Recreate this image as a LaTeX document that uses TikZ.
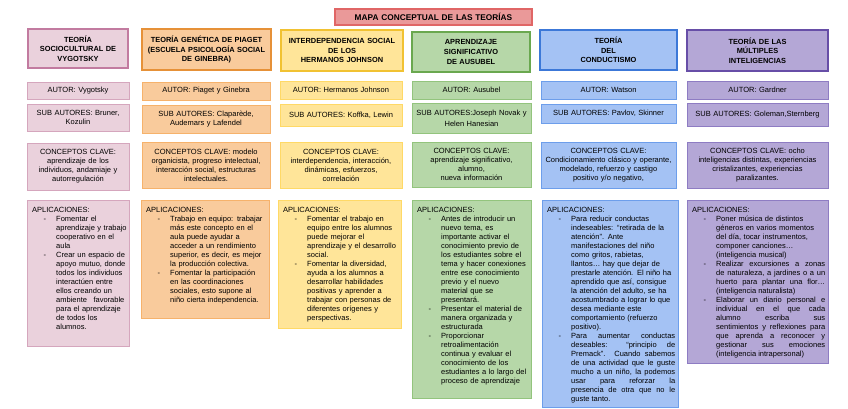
\documentclass[tikz,border=0pt]{standalone}
\usepackage{fontspec}
\setmainfont{Liberation Sans}
\definecolor{pkF}{HTML}{EAD1DC}\definecolor{pkH}{HTML}{C27BA0}\definecolor{pkB}{HTML}{D5A6BD}
\definecolor{orF}{HTML}{F9CB9C}\definecolor{orH}{HTML}{E69138}\definecolor{orB}{HTML}{F6B26B}
\definecolor{ylF}{HTML}{FFE599}\definecolor{ylH}{HTML}{F1C232}\definecolor{ylB}{HTML}{FFD966}
\definecolor{gnF}{HTML}{B6D7A8}\definecolor{gnH}{HTML}{6AA84F}\definecolor{gnB}{HTML}{93C47D}
\definecolor{blF}{HTML}{A4C2F4}\definecolor{blH}{HTML}{3C78D8}\definecolor{blB}{HTML}{6D9EEB}
\definecolor{puF}{HTML}{B4A7D6}\definecolor{puH}{HTML}{674EA7}\definecolor{puB}{HTML}{8E7CC3}
\definecolor{rdF}{HTML}{EA9999}\definecolor{rdH}{HTML}{E06666}
\newcommand{\hdfont}{\fontsize{7.4}{9.7}\selectfont\bfseries}
\newcommand{\bdfont}{\fontsize{7.5}{9}\selectfont}
\newcommand{\ttlfont}{\fontsize{8.3}{9.6}\selectfont\bfseries}
\newcommand{\NL}{\break}
\newcommand{\apitem}{\par\hangindent=24pt\hangafter=0\noindent\llap{-\hspace{10pt}}\ignorespaces}
\newcommand{\apjitem}{\par\rightskip=0pt\relax\leftskip=0pt\relax\spaceskip=0pt\relax\xspaceskip=0pt\relax\parfillskip=0pt plus 1fil\relax\tolerance=10000\hbadness=10000\apitem}
\newcommand{\mkcbox}[7]{%
  \pgfmathsetmacro\cbw{#5-#3}%
  \pgfmathsetmacro\cbh{#6-#4}%
  \pgfmathsetmacro\cbtw{#5-#3-4}%
  \pgfmathsetmacro\cbx{(#3+#5)/2}%
  \pgfmathsetmacro\cby{(#4+#6)/2}%
  \node[#2, minimum width=\cbw pt, minimum height=\cbh pt, text width=\cbtw pt] (#1) at (\cbx,\cby) {#7};}
\newcommand{\mkabox}[8]{%
  \pgfmathsetmacro\abw{#5-#3}%
  \pgfmathsetmacro\abh{#6-#4}%
  \pgfmathsetmacro\abtw{#5-#3-8+#7}%
  \node[#2, anchor=north west, minimum width=\abw pt, minimum height=\abh pt] (#1) at (#3,#4) {};
  \node[atext, text width=\abtw pt] (#1t) at ([xshift=5pt,yshift=-7pt]#1.north west) {\parindent=0pt\noindent\rightskip=0pt plus 1fil\relax\parfillskip=0pt plus 1fil\relax #8\par};}
\tikzset{
  hbox/.style 2 args={draw=#1, fill=#2, line width=1.5pt, inner sep=2pt, align=center, font=\hdfont},
  cbox/.style 2 args={draw=#1, fill=#2, line width=0.8pt, inner sep=2pt, align=center, font=\bdfont},
  abox/.style 2 args={draw=#1, fill=#2, line width=0.8pt, inner sep=0pt},
  atext/.style={anchor=north west, inner sep=0pt, font=\bdfont},
  ttl/.style={draw=rdH, fill=rdF, line width=2pt, inner sep=2pt, align=center, font=\ttlfont},
  h1/.style={hbox={pkH}{pkF}}, b1/.style={cbox={pkB}{pkF}}, a1/.style={abox={pkB}{pkF}},
  h2/.style={hbox={orH}{orF}}, b2/.style={cbox={orB}{orF}}, a2/.style={abox={orB}{orF}},
  h3/.style={hbox={ylH}{ylF}}, b3/.style={cbox={ylB}{ylF}}, a3/.style={abox={ylB}{ylF}},
  h4/.style={hbox={gnH}{gnF}}, b4/.style={cbox={gnB}{gnF}}, a4/.style={abox={gnB}{gnF}},
  h5/.style={hbox={blH}{blF}}, b5/.style={cbox={blB}{blF}}, a5/.style={abox={blB}{blF}},
  h6/.style={hbox={puH}{puF}}, b6/.style={cbox={puB}{puF}}, a6/.style={abox={puB}{puF}},
}
\begin{document}
\begin{tikzpicture}[x=1pt,y=-1pt]
\useasboundingbox (0,0) rectangle (848,409);
\fill[white] (0,0) rectangle (848,409);
% title
\mkcbox{title}{ttl}{335}{9}{532}{25}{MAPA CONCEPTUAL DE LAS TEORÍAS}
% column 1
\mkcbox{c1h}{h1}{28}{29}{128}{68}{TEORÍA\\SOCIOCULTURAL DE\\VYGOTSKY}
\mkcbox{c1a}{b1}{27}{82}{129}{99}{AUTOR: Vygotsky}
\mkcbox{c1s}{b1}{27}{104}{129}{131}{SUB AUTORES: Bruner,\\Kozulin}
\mkcbox{c1c}{b1}{27}{143}{129}{190}{CONCEPTOS CLAVE:\\aprendizaje de los\\individuos, andamiaje y\\autorregulación}
\mkabox{c1p}{a1}{27}{200}{129}{346}{10}{APLICACIONES:\apitem Fomentar el\NL aprendizaje y trabajo\NL cooperativo en el\NL aula\apitem Crear un espacio de\NL apoyo mutuo, donde\NL todos los individuos\NL interactúen entre\NL ellos creando un\NL ambiente\hspace{4pt} favorable\NL para el aprendizaje\NL de todos los\NL alumnos.}
% column 2
\mkcbox{c2h}{h2}{142}{29}{271}{70}{TEORÍA GENÉTICA DE PIAGET\\(ESCUELA PSICOLOGÍA SOCIAL\\DE GINEBRA)}
\mkcbox{c2a}{b2}{142}{82}{270}{100}{AUTOR: Piaget y Ginebra}
\mkcbox{c2s}{b2}{142}{105}{270}{133}{SUB AUTORES: Claparède,\\Audemars y Lafendel}
\mkcbox{c2c}{b2}{142}{142}{270}{188}{CONCEPTOS CLAVE: modelo\\organicista, progreso intelectual,\\interacción social, estructuras\\intelectuales.}
\mkabox{c2p}{a2}{141}{200}{269}{318}{10}{APLICACIONES:\apitem Trabajo en equipo: trabajar\NL más este concepto en el\NL aula puede ayudar a\NL acceder a un rendimiento\NL superior, es decir, es mejor\NL la producción colectiva.\apitem Fomentar la participación\NL en las coordinaciones\NL sociales, esto supone al\NL niño cierta independencia.}
% column 3
\mkcbox{c3h}{h3}{281}{30}{403}{71}{INTERDEPENDENCIA SOCIAL\\DE LOS\\HERMANOS JOHNSON}
\mkcbox{c3a}{b3}{280}{81}{402}{99}{AUTOR: Hermanos Johnson}
\mkcbox{c3s}{b3}{280}{104}{402}{126}{SUB AUTORES: Koffka, Lewin}
\mkcbox{c3c}{b3}{280}{142}{402}{188}{CONCEPTOS CLAVE:\\interdependencia, interacción,\\dinámicas, esfuerzos,\\correlación}
\mkabox{c3p}{a3}{278}{200}{401}{328}{10}{APLICACIONES:\apitem Fomentar el trabajo en\NL equipo entre los alumnos\NL puede mejorar el\NL aprendizaje y el desarrollo\NL social.\apitem Fomentar la diversidad,\NL ayuda a los alumnos a\NL desarrollar habilidades\NL positivas y aprender a\NL trabajar con personas de\NL diferentes orígenes y\NL perspectivas.}
% column 4
\mkcbox{c4h}{h4}{412}{32}{530}{72}{APRENDIZAJE\\SIGNIFICATIVO\\DE AUSUBEL}
\mkcbox{c4a}{b4}{412}{81}{531}{99}{AUTOR: Ausubel}
\mkcbox{c4s}{b4}{412}{103}{531}{133}{SUB AUTORES:Joseph Novak y\\[2pt]Helen Hanesian}
\mkcbox{c4c}{b4}{412}{142}{531}{187}{CONCEPTOS CLAVE:\\aprendizaje significativo,\\alumno,\\nueva información}
\mkabox{c4p}{a4}{412}{200}{531}{398}{10}{APLICACIONES:\apitem Antes de introducir un\NL nuevo tema, es\NL importante activar el\NL conocimiento previo de\NL los estudiantes sobre el\NL tema y hacer conexiones\NL entre ese conocimiento\NL previo y el nuevo\NL material que se\NL presentará.\apitem Presentar el material de\NL manera organizada y\NL estructurada\apitem Proporcionar\NL retroalimentación\NL continua y evaluar el\NL conocimiento de los\NL estudiantes a lo largo del\NL proceso de aprendizaje}
% column 5
\mkcbox{c5h}{h5}{540}{30}{677}{70}{TEORÍA\\DEL\\CONDUCTISMO}
\mkcbox{c5a}{b5}{541}{81}{676}{99}{AUTOR: Watson}
\mkcbox{c5s}{b5}{541}{104}{676}{123}{SUB AUTORES: Pavlov, Skinner}
\mkcbox{c5c}{b5}{541}{142}{676}{188}{CONCEPTOS CLAVE:\\Condicionamiento clásico y operante,\\modelado, refuerzo y castigo\\positivo y/o negativo,}
\mkabox{c5p}{a5}{542}{200}{678}{407}{0}{APLICACIONES:\apitem Para reducir conductas\NL indeseables: “retirada de la\NL atención”. Ante\NL manifestaciones del niño\NL como gritos, rabietas,\NL llantos… hay que dejar de\NL prestarle atención. El niño ha\NL aprendido que así, consigue\NL la atención del adulto, se ha\NL acostumbrado a lograr lo que\NL desea mediante este\NL comportamiento (refuerzo\NL positivo).\apjitem Para aumentar conductas\NL deseables: “principio de\NL Premack”. Cuando sabemos\NL de una actividad que le guste\NL mucho a un niño, la podemos\NL usar para reforzar la\NL presencia de otra que no le\NL guste tanto.}
% column 6
\mkcbox{c6h}{h6}{687}{30}{828}{71}{TEORÍA DE LAS\\MÚLTIPLES\\INTELIGENCIAS}
\mkcbox{c6a}{b6}{687}{81}{828}{99}{AUTOR: Gardner}
\mkcbox{c6s}{b6}{687}{103}{828}{126}{SUB AUTORES: Goleman,Sternberg}
\mkcbox{c6c}{b6}{687}{142}{828}{188}{CONCEPTOS CLAVE: ocho\\inteligencias distintas, experiencias\\cristalizantes, experiencias\\paralizantes.}
\mkabox{c6p}{a6}{687}{200}{828}{363}{0}{APLICACIONES:\apitem Poner música de distintos\NL géneros en varios momentos\NL del día, tocar instrumentos,\NL componer canciones…\NL (inteligencia musical)\apjitem Realizar excursiones a zonas\NL de naturaleza, a jardines o a un\NL huerto para plantar una flor…\NL (inteligencia naturalista)\apjitem Elaborar un diario personal e\NL individual en el que cada\NL alumno escriba sus\NL sentimientos y reflexiones para\NL que aprenda a reconocer y\NL gestionar sus emociones\NL (inteligencia intrapersonal)}
\end{tikzpicture}
\end{document}
